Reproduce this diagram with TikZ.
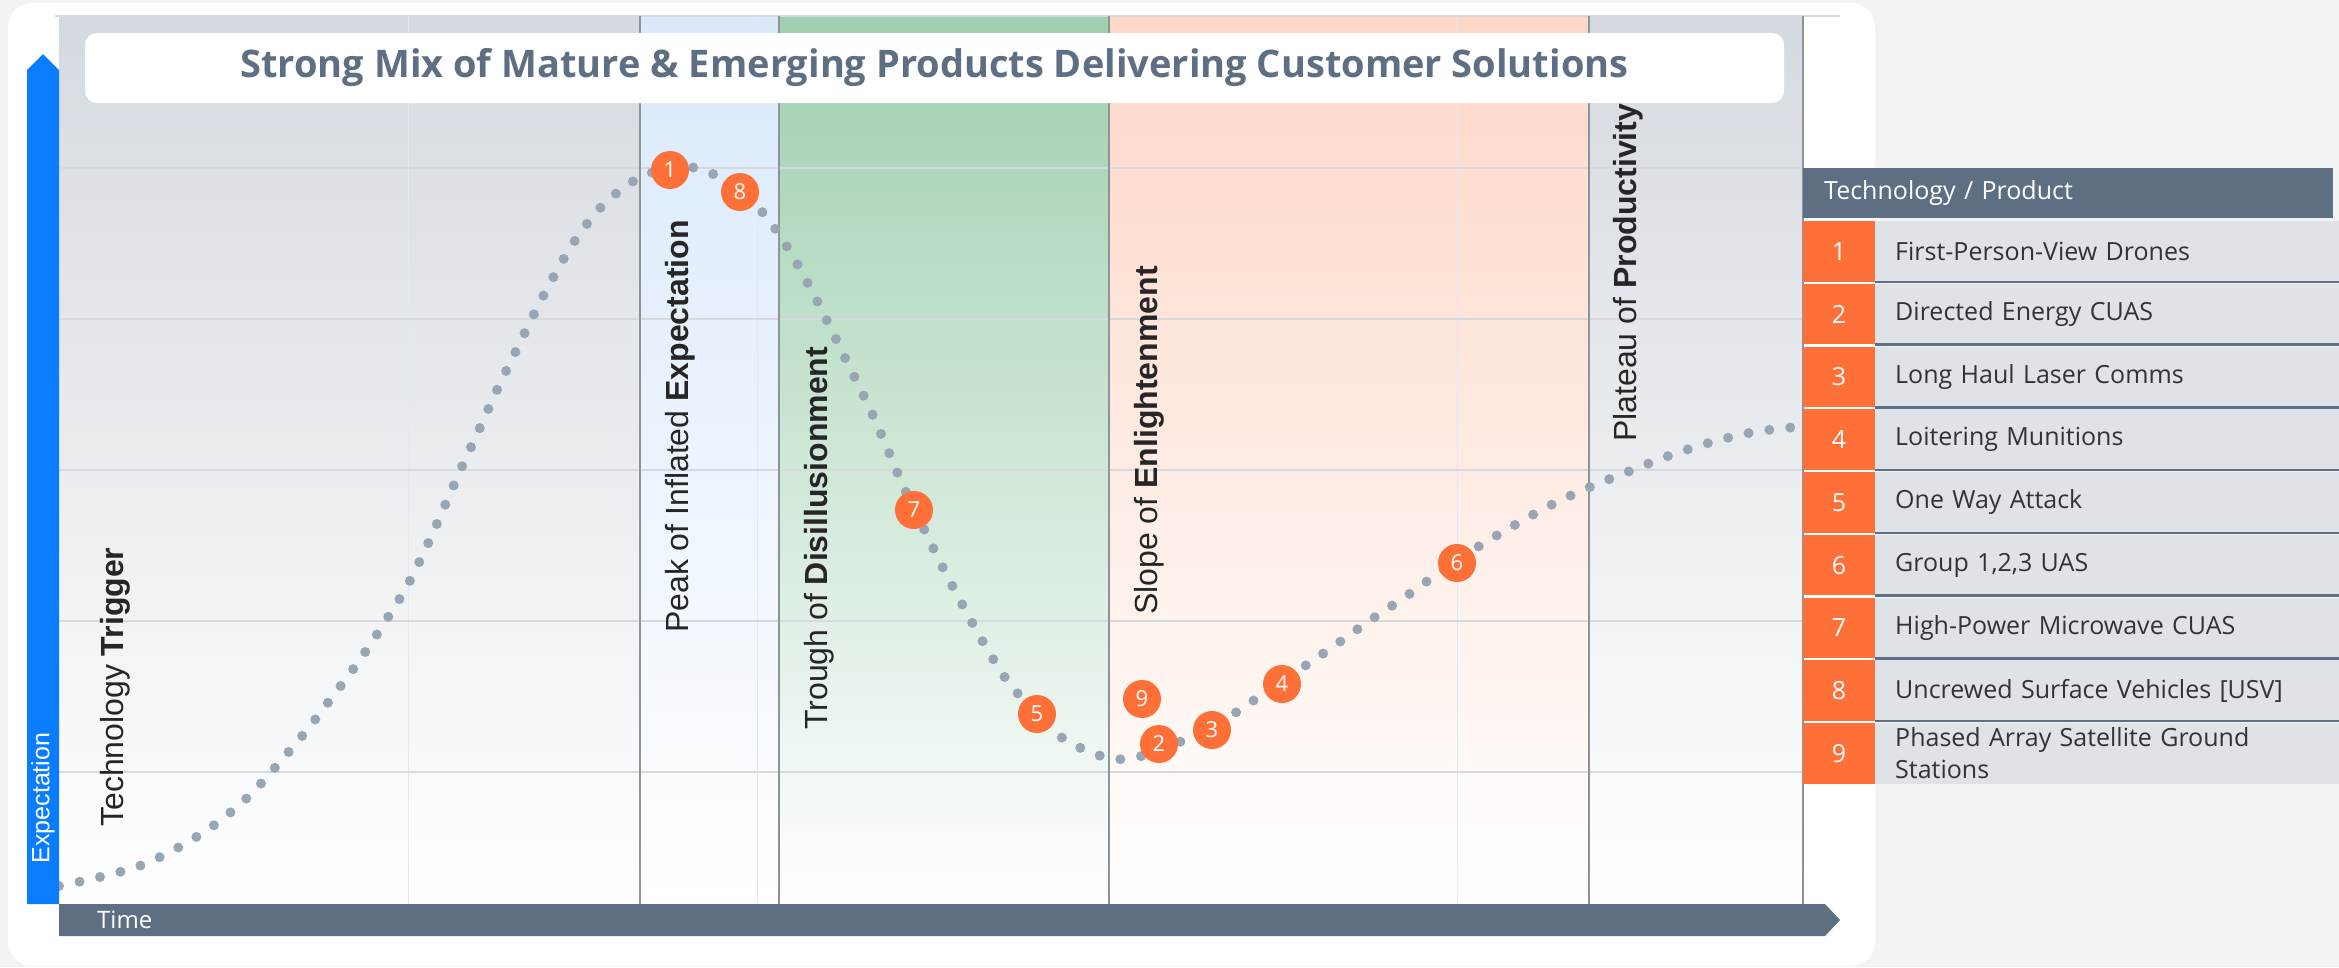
\documentclass[tikz,border=0pt]{standalone}
\usepackage{fontspec}
\setmainfont{Open Sans}
\newfontfamily\phasefont{Liberation Sans}
\usetikzlibrary{positioning}
\definecolor{slate}{HTML}{5E6F84}
\definecolor{badgeorange}{HTML}{FF7038}
\definecolor{dotgray}{HTML}{98A5B5}
\definecolor{bandgray}{HTML}{D5DAE0}
\definecolor{bandblue}{HTML}{D9E9FB}
\definecolor{bandgreen}{HTML}{9ECFAE}
\definecolor{bandpeach}{HTML}{FDD7C7}
\definecolor{cellgray}{HTML}{DFE2E7}
\definecolor{pagegray}{HTML}{F2F3F3}
\definecolor{labeltext}{HTML}{333333}
\definecolor{phasetext}{HTML}{262626}
\definecolor{axisblue}{HTML}{0A7CFF}
\definecolor{divider}{HTML}{8C949B}
\definecolor{gridline}{HTML}{D6DADF}
\definecolor{gridfaint}{HTML}{E1E9F3}

\begin{document}
\begin{tikzpicture}[x=1pt,y=-1pt,
  phase/.style={rotate=90,anchor=west,inner sep=0pt,text=phasetext,font=\phasefont\fontsize{32}{32}\selectfont},
  badge/.style={circle,fill=badgeorange,text=white,minimum size=38pt,inner sep=0pt,font=\fontsize{22}{22}\selectfont},
  numcell/.style={fill=badgeorange,text=white,minimum width=72pt,minimum height=60.5pt,inner sep=0pt,font=\fontsize{25}{25}\selectfont},
  labelcell/.style={anchor=west,fill=cellgray,text=labeltext,minimum height=60.5pt,text width=438pt,inner xsep=20pt,inner ysep=0pt,align=left,font=\fontsize{25}{32}\selectfont},
  rowrule/.style={slate,line width=2.5pt},
  dotline/.style={dotgray,line width=10pt,line cap=round,dash pattern=on 0pt off 21pt}]
 \useasboundingbox (0,0) rectangle (2339,967);
 \fill[pagegray] (0,0) rectangle (2339,967);
 \fill[white,rounded corners=24pt] (8,3) rectangle (1875,966);
 \shade[top color=bandgray,bottom color=white] (59,16) rectangle (640,904);
 \shade[top color=bandblue,bottom color=white] (640,16) rectangle (779,904);
 \shade[top color=bandgreen,bottom color=white] (779,16) rectangle (1109,904);
 \shade[top color=bandpeach,bottom color=white] (1109,16) rectangle (1589,904);
 \shade[top color=bandgray,bottom color=white] (1589,16) rectangle (1803,904);
 \draw[gridfaint,line width=1pt] (408,16)--(408,904);
 \draw[gridfaint,line width=1pt] (757,16)--(757,904);
 \draw[gridfaint,line width=1pt] (1457,16)--(1457,904);
 \draw[gridline,line width=1.5pt] (59,168)--(1803,168);
 \draw[gridline,line width=1.5pt] (59,319)--(1803,319);
 \draw[gridline,line width=1.5pt] (59,470)--(1803,470);
 \draw[gridline,line width=1.5pt] (59,621)--(1803,621);
 \draw[gridline,line width=1.5pt] (59,772)--(1803,772);
 \draw[gridline,line width=1.5pt] (55,16)--(1840,16);
 \draw[divider,line width=1.5pt] (640,16)--(640,904);
 \draw[divider,line width=1.5pt] (779,16)--(779,904);
 \draw[divider,line width=1.5pt] (1109,16)--(1109,904);
 \draw[divider,line width=1.5pt] (1589,16)--(1589,904);
 \draw[divider,line width=1.5pt] (1803,16)--(1803,904);
 \draw[dotline] plot[smooth,tension=0.55] coordinates {(59,886) (100,877) (142,865) (181,846) (217,823)
   (250,795) (279,763) (307,730) (333,696) (359,661) (383,625) (406,588) (425,550) (443,510)
   (460,471) (478,432) (496,392) (515,353) (534,314) (554,276) (576,239) (603,205) (637,179)
   (670,168) (700,169) (738,188) (768,219) (792,255) (813,293) (832,331) (851,370) (870,409)
   (887,448) (904,488) (923,527) (942,566) (962,604) (983,642) (1006,679) (1028,705) (1048,728)
   (1066,740) (1085,750) (1105,757) (1127,759) (1158,751) (1188,738) (1227,718) (1263,694)
   (1299,670) (1334,646) (1369,621) (1405,597) (1440,572) (1476,548) (1513,526) (1551,505)
   (1590,487) (1630,471) (1671,455) (1712,442) (1754,432) (1796,427)};
 \node[fill=white,rounded corners=12pt,minimum width=1699pt,minimum height=70pt,text=slate,
   font=\bfseries\fontsize{38}{38}\selectfont] (title) at (934.5,68)
   {Strong Mix of Mature \& Emerging Products Delivering Customer Solutions};
 \fill[axisblue] (27,904)--(27,70)--(43,54)--(59,70)--(59,904)--cycle;
 \fill[slate] (59,904)--(1825,904)--(1840,920)--(1825,936)--(59,936)--cycle;
 \node[rotate=90,text=white,inner sep=0pt,font=\phasefont\fontsize{25}{25}\selectfont] (ylabel) at (43,798) {Expectation};
 \node[anchor=west,text=white,inner sep=0pt,font=\fontsize{24}{24}\selectfont] (xlabel) at (97,920) {Time};
 \node[phase] (trigger) at (115,827) {Technology \textbf{Trigger}};
 \node[phase] (peak) at (680,633) {Peak of Inflated \textbf{Expectation}};
 \node[phase] (trough) at (819,730) {Trough of \textbf{Disillusionment}};
 \node[phase] (slope) at (1149,615) {Slope of \textbf{Enlightenment}};
 \node[phase] (plateau) at (1628,442) {Plateau of \textbf{Productivity}};
 \node[badge] (b1) at (670,170) {1};
 \node[badge] (b8) at (740,192) {8};
 \node[badge] (b7) at (914,510) {7};
 \node[badge] (b5) at (1037,714) {5};
 \node[badge] (b9) at (1142,699) {9};
 \node[badge] (b2) at (1159,744) {2};
 \node[badge] (b3) at (1212,730) {3};
 \node[badge] (b4) at (1282,684) {4};
 \node[badge] (b6) at (1457,563) {6};
 \node[anchor=north west,fill=slate,text=white,minimum height=50pt,text width=488pt,inner xsep=21pt,
   align=left,font=\fontsize{25}{25}\selectfont] (thead) at (1803,168) {Technology / Product};
 \node[numcell] (n1) at (1839,251.4) {1};
 \node[labelcell] (l1) at (1875,251.4) {First-Person-View Drones};
 \node[numcell] (n2) at (1839,314.1) {2};
 \node[labelcell] (l2) at (1875,314.1) {Directed Energy CUAS};
 \node[numcell] (n3) at (1839,376.9) {3};
 \node[labelcell] (l3) at (1875,376.9) {Long Haul Laser Comms};
 \node[numcell] (n4) at (1839,439.6) {4};
 \node[labelcell] (l4) at (1875,439.6) {Loitering Munitions};
 \node[numcell] (n5) at (1839,502.4) {5};
 \node[labelcell] (l5) at (1875,502.4) {One Way Attack};
 \node[numcell] (n6) at (1839,565.1) {6};
 \node[labelcell] (l6) at (1875,565.1) {Group 1,2,3 UAS};
 \node[numcell] (n7) at (1839,627.9) {7};
 \node[labelcell] (l7) at (1875,627.9) {High-Power Microwave CUAS};
 \node[numcell] (n8) at (1839,690.6) {8};
 \node[labelcell] (l8) at (1875,690.6) {Uncrewed Surface Vehicles [USV]};
 \node[numcell] (n9) at (1839,753.4) {9};
 \node[labelcell] (l9) at (1875,753.4) {Phased Array Satellite Ground\\Stations};
 \draw[rowrule] (l1.south west)--(l1.south east);
 \draw[rowrule] (l2.south west)--(l2.south east);
 \draw[rowrule] (l3.south west)--(l3.south east);
 \draw[rowrule] (l4.south west)--(l4.south east);
 \draw[rowrule] (l5.south west)--(l5.south east);
 \draw[rowrule] (l6.south west)--(l6.south east);
 \draw[rowrule] (l7.south west)--(l7.south east);
 \draw[rowrule] (l8.south west)--(l8.south east);
\end{tikzpicture}
\end{document}
